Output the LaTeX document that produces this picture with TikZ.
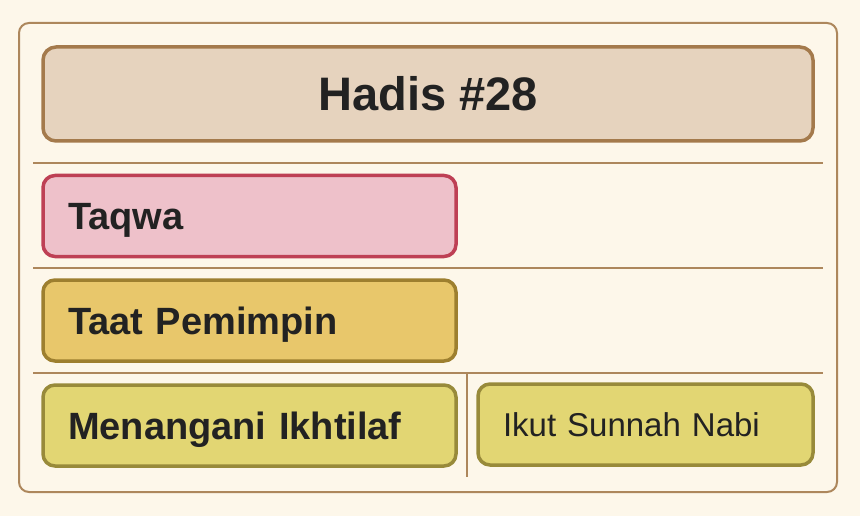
\documentclass[tikz,border=0pt]{standalone}
\usepackage{fontspec}
\setmainfont{Liberation Sans}
\usetikzlibrary{calc}
\definecolor{fondo}{HTML}{FDF7EA}
\definecolor{marco}{HTML}{AD875C}
\definecolor{tinta}{HTML}{222222}
\definecolor{crema}{HTML}{E6D3BE}
\definecolor{crema2}{HTML}{A47A4C}
\definecolor{rosa}{HTML}{EEC1CA}
\definecolor{rosa2}{HTML}{BE4055}
\definecolor{oro}{HTML}{E8C76B}
\definecolor{oro2}{HTML}{9D7F2F}
\definecolor{lima}{HTML}{E2D673}
\definecolor{lima2}{HTML}{988A3A}

\begin{document}
\begin{tikzpicture}[x=1pt,y=-1pt,
judul/.style ={rectangle, draw=crema2, line width=3.5pt, fill=crema, rounded corners=13pt, minimum width=770pt, minimum height=94pt, inner sep=0pt, text=tinta, font=\fontsize{47}{56}\selectfont\bfseries, text height=34pt, text depth=0pt},
fila/.style ={rectangle, line width=3.5pt, rounded corners=12pt, text width=363pt, inner xsep=25pt, inner ysep=0pt, align=left, minimum height=81pt, text=tinta, font=\fontsize{38}{46}\selectfont\bfseries, text height=27pt, text depth=0pt},
merah/.style ={fila, draw=rosa2, fill=rosa},
emas/.style ={fila, draw=oro2, fill=oro},
kuning/.style ={fila, draw=lima2, fill=lima},
sunnah/.style ={kuning, text width=285pt, font=\fontsize{33}{40}\selectfont, text height=24pt},
garis/.style ={marco, line width=2pt}
]
\fill[fondo] (0,0) rectangle (860,516);
\draw[marco, line width=2pt, rounded corners=10pt] (19,23) rectangle (837,492);
\draw (428,94) node[judul] (H) {Hadis \#28};
\draw (249.5,216) node[merah] (T) {Taqwa};
\draw (249.5,320.5) node[emas] (P) {Taat Pemimpin};
\draw (249.5,425.5) node[kuning] (M) {Menangani Ikhtilaf};
\draw (645.5,424.5) node[sunnah] (S) {Ikut Sunnah Nabi};
\draw[garis] (33,163)--(823,163);
\draw[garis] (33,268)--(823,268);
\draw[garis] (33,373)--(823,373);
\draw[garis] (467,373)--(467,477);
\end{tikzpicture}
\end{document}
